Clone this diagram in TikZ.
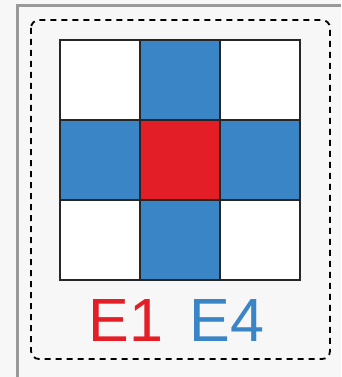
\documentclass[tikz,border=0pt]{standalone}
\usepackage{fontspec}
\setmainfont{Liberation Sans}
\definecolor{crossblue}{HTML}{3A85C6}
\definecolor{crossred}{HTML}{E41E26}
\tikzset{
  gridline/.style={line width=2.6pt, black!85},
  bigtext/.style={anchor=base, inner sep=0pt, font=\fontsize{61}{61}\selectfont}
}

\begin{document}
\begin{tikzpicture}[x=1pt,y=-1pt]
    \useasboundingbox (0,0) rectangle (341,377);
    \fill[black!3] (0,0) rectangle (341,377);
    % frame of the panel
    \draw[black!40, line width=3pt] (17.5,377) |- (341,6);
    \draw[dash pattern=on 6pt off 5pt, line width=1.8pt, rounded corners=8pt] (31,20) rectangle (330,359);
    % 3x3 board, cross cells
    \begin{scope}[shift={(60,40)}]
      \fill[white] (0,0) rectangle (240,240);
      \foreach \x/\y in {1/0,0/1,2/1,1/2} {\fill[crossblue] (80*\x,80*\y) rectangle ++(80,80);}
      \fill[crossred] (80,80) rectangle (160,160);
      \foreach \i in {0,1,2,3} {
        \draw[gridline] (80*\i,0) -- (80*\i,240);
        \draw[gridline] (0,80*\i) -- (240,80*\i);
      }
      \draw[gridline] (0,0) rectangle (240,240);
    \end{scope}
    % labels
    \node[bigtext, text=crossred] (eone) at (126,341) {E1};
    \node[bigtext, text=crossblue] (efour) at (227,341) {E4};
\end{tikzpicture}
\end{document}
